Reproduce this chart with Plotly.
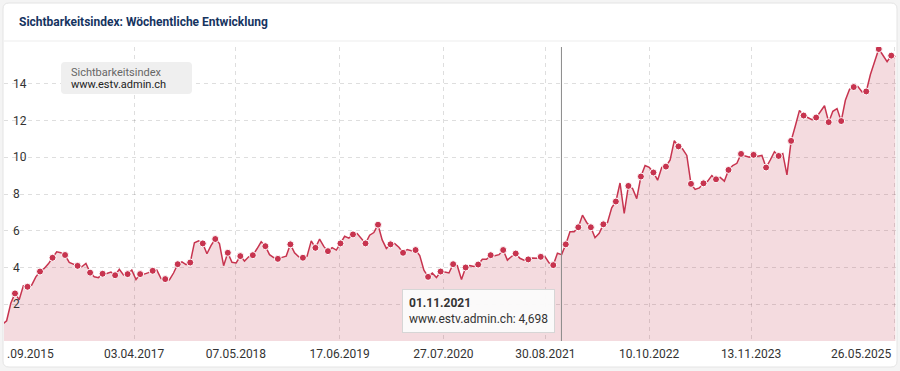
import plotly.graph_objects as go
import pandas as pd

# ---------------- data ----------------
series_name = "www.estv.admin.ch"
first_date = "2015-11-05"          # first plotted point
step_hours = 392                   # one point every 16 1/3 days (dots every 7 weeks)
values = [
    0.9, 1.1, 2.05, 2.59, 2.25, 3.0, 2.95, 3.04, 3.49, 3.78,
    3.95, 4.2, 4.53, 4.85, 4.8, 4.68, 4.28, 4.18, 4.09, 4.04,
    4.22, 3.72, 3.5, 3.45, 3.66, 3.67, 3.75, 3.58, 3.9, 3.6,
    3.64, 3.86, 3.35, 3.64, 3.64, 3.72, 3.82, 3.86, 3.4, 3.37,
    3.32, 3.7, 4.18, 4.3, 4.15, 4.27, 5.35, 5.45, 5.31, 4.75,
    5.2, 5.55, 5.3, 4.1, 4.8, 4.28, 4.25, 4.62, 4.35, 4.58,
    4.67, 5.02, 5.4, 5.16, 4.7, 4.54, 4.47, 4.55, 4.62, 5.26,
    4.8, 4.58, 4.53, 4.62, 5.45, 5.07, 5.55, 5.15, 4.89, 5.08,
    4.95, 5.31, 5.7, 5.6, 5.8, 5.85, 5.6, 5.31, 5.76, 5.9,
    6.33, 5.5, 5.04, 5.26, 5.3, 5.1, 4.8, 4.98, 4.91, 4.95,
    4.65, 3.85, 3.49, 3.7, 3.45, 3.78, 3.75, 3.7, 4.18, 4.1,
    3.35, 4.0, 4.1, 4.05, 4.16, 4.45, 4.45, 4.67, 4.64, 4.7,
    4.95, 4.4, 4.6, 4.76, 4.5, 4.4, 4.44, 4.52, 4.5, 4.58,
    4.6, 4.25, 4.13, 4.78, 4.7, 5.26, 5.95, 5.95, 6.19, 6.85,
    6.45, 6.19, 5.62, 5.86, 6.35, 6.45, 7.25, 7.59, 8.6, 6.95,
    8.44, 8.3, 7.75, 8.95, 9.55, 9.45, 9.17, 8.75, 9.45, 9.49,
    9.85, 10.9, 10.59, 10.45, 10.1, 8.55, 8.25, 8.33, 8.58, 8.7,
    9.0, 8.8, 8.9, 8.7, 9.31, 9.55, 9.67, 10.18, 10.07, 10.0,
    10.13, 10.05, 10.1, 9.44, 9.85, 10.3, 10.07, 10.2, 9.04, 10.89,
    11.7, 12.55, 12.27, 12.15, 12.04, 12.16, 12.48, 12.8, 11.91, 12.5,
    12.65, 11.97, 13.1, 13.7, 13.82, 13.85, 13.55, 13.58, 14.5, 15.22,
    15.89, 15.55, 15.2, 15.53, 15.49,
]
tick_dates = ["2017-04-03", "2018-05-07", "2019-06-17", "2020-07-27",
              "2021-08-30", "2022-10-10", "2023-11-13", "2025-05-26"]
tick_labels = ["03.04.2017", "07.05.2018", "17.06.2019", "27.07.2020",
               "30.08.2021", "10.10.2022", "13.11.2023", "26.05.2025"]
first_label = ".09.2015"
y_ticks = [2, 4, 6, 8, 10, 12, 14]
hover_date = "2021-11-01"
hover_label = "01.11.2021"
hover_value = "4,698"
x_range = ["2015-11-11", "2025-06-02 12:00"]
y_range = [0, 16]

dates = pd.date_range(first_date, periods=len(values), freq=pd.Timedelta(hours=step_hours))

# ---------------- layout helpers (pixel -> paper) ----------------
W, H = 900, 371
ML, MR, MT, MB = 4, 4, 47, 30
PW, PH = W - ML - MR, H - MT - MB


def px(x):
    return (x - ML) / PW


def py(y):
    return (H - MB - y) / PH


def rrect(x0, y0, x1, y1, r):
    return (f"M {px(x0 + r)},{py(y0)} L {px(x1 - r)},{py(y0)} Q {px(x1)},{py(y0)} {px(x1)},{py(y0 + r)} "
            f"L {px(x1)},{py(y1 - r)} Q {px(x1)},{py(y1)} {px(x1 - r)},{py(y1)} "
            f"L {px(x0 + r)},{py(y1)} Q {px(x0)},{py(y1)} {px(x0)},{py(y1 - r)} "
            f"L {px(x0)},{py(y0 + r)} Q {px(x0)},{py(y0)} {px(x0 + r)},{py(y0)} Z")


LINE = "#c7344f"
FONT = "Roboto"

fig = go.Figure()
fig.add_trace(go.Scatter(
    x=dates, y=values, mode="lines",
    line=dict(color=LINE, width=1.5),
    fill="tozeroy", fillcolor="rgba(190,40,65,0.17)",
    hoverinfo="skip", showlegend=False,
))
fig.add_trace(go.Scatter(
    x=dates[3::3], y=values[3::3], mode="markers",
    marker=dict(color=LINE, size=7, line=dict(color="white", width=1)),
    hoverinfo="skip", showlegend=False,
))

shapes = [
    # card
    dict(type="path", xref="paper", yref="paper", path=rrect(3, 3, 897, 367, 6),
         fillcolor="white", line=dict(color="#e4e4e4", width=1), layer="below"),
    # header separator
    dict(type="line", xref="paper", yref="paper", x0=px(4), x1=px(896), y0=py(41), y1=py(41),
         line=dict(color="#ededed", width=1), layer="below"),
    # legend box
    dict(type="path", xref="paper", yref="paper", path=rrect(61, 62, 192, 94, 4),
         fillcolor="#efefef", line=dict(width=0), layer="above"),
    # crosshair
    dict(type="line", xref="x", yref="paper", x0=hover_date, x1=hover_date, y0=0, y1=1,
         line=dict(color="#8a8a8a", width=1), layer="above"),
]

annotations = [
    dict(text="<b>Sichtbarkeitsindex: Wöchentliche Entwicklung</b>", xref="paper", yref="paper",
         x=px(17), y=py(22), xanchor="left", yanchor="middle", showarrow=False,
         font=dict(family=FONT, size=12, color="#16345f")),
    dict(text="Sichtbarkeitsindex", xref="paper", yref="paper", x=px(69), y=py(72),
         xanchor="left", yanchor="middle", showarrow=False,
         font=dict(family=FONT, size=11, color="#666666")),
    dict(text=series_name, xref="paper", yref="paper", x=px(69), y=py(84.5),
         xanchor="left", yanchor="middle", showarrow=False,
         font=dict(family=FONT, size=11, color="#222222")),
    dict(text=first_label, xref="paper", yref="paper", x=px(4.6), y=py(354),
         xanchor="left", yanchor="middle", showarrow=False,
         font=dict(family=FONT, size=12, color="#333333")),
    dict(text=tick_labels[-1], xref="x", yref="paper", x=tick_dates[-1], y=py(354),
         xanchor="right", yanchor="middle", showarrow=False,
         font=dict(family=FONT, size=12, color="#333333")),
    dict(text=f"<b>{hover_label}</b><br>{series_name}: {hover_value}", xref="x", yref="paper",
         x=hover_date, y=py(310.5), xanchor="right", yanchor="middle", xshift=-6,
         showarrow=False, align="left", bgcolor="rgba(251,251,251,0.96)",
         bordercolor="#d6d6d6", borderwidth=1, borderpad=6,
         font=dict(family=FONT, size=12, color="#333333")),
]

fig.update_layout(
    width=W, height=H,
    margin=dict(l=ML, r=MR, t=MT, b=MB),
    paper_bgcolor="#f4f4f4", plot_bgcolor="rgba(0,0,0,0)",
    hovermode=False, showlegend=False,
    shapes=shapes, annotations=annotations,
    font=dict(family=FONT, size=12, color="#333333"),
)
fig.update_xaxes(
    type="date", range=x_range,
    tickmode="array", tickvals=tick_dates, ticktext=tick_labels[:-1] + [""],
    showgrid=True, gridcolor="rgba(0,0,0,0.13)", griddash="4px,4px", gridwidth=1,
    showline=False, zeroline=False, ticks="", ticklabelstandoff=4,
    tickfont=dict(family=FONT, size=12, color="#333333"),
)
fig.update_yaxes(
    range=y_range, tickmode="array", tickvals=y_ticks,
    showgrid=True, gridcolor="rgba(0,0,0,0.13)", griddash="4px,4px", gridwidth=1,
    showline=False, zeroline=False, ticks="",
    ticklabelposition="inside", ticklabelstandoff=6,
    tickfont=dict(family=FONT, size=12, color="#333333"),
)

fig.write_html(
    "out.html",
    config={"displayModeBar": False, "staticPlot": True},
    post_script="document.body.style.margin='0';document.body.style.overflow='hidden';",
)
